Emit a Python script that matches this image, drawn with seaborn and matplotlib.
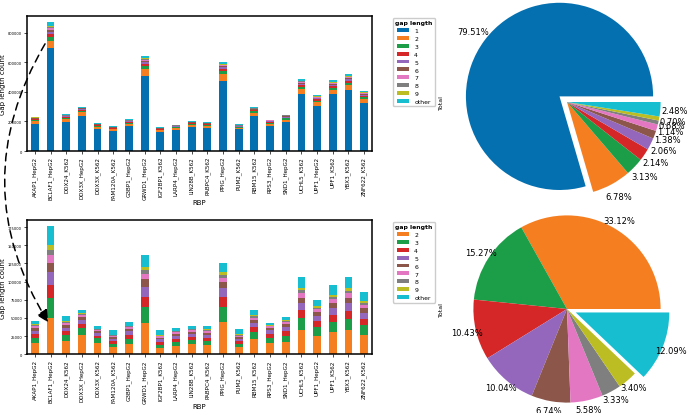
import numpy as np
import pandas as pd
import matplotlib
matplotlib.use("Agg")
import matplotlib.pyplot as plt
import seaborn as sns
from matplotlib.patches import ConnectionPatch, Patch

# ---------------- data ----------------
rbps = ["AKAP1_HepG2", "BCLAF1_HepG2", "DDX24_K562", "DDX3X_HepG2", "DDX3X_K562",
        "FAM120A_K562", "G3BP1_HepG2", "GRWD1_HepG2", "IGF2BP1_K562", "LARP4_HepG2",
        "LIN28B_K562", "PABPC4_K562", "PPIG_HepG2", "PUM2_K562", "RBM15_K562",
        "RPS3_HepG2", "SND1_HepG2", "UCHL5_K562", "UPF1_HepG2", "UPF1_K562",
        "YBX3_K562", "ZNF622_K562"]
gap_levels = ["1", "2", "3", "4", "5", "6", "7", "8", "9", "other"]

gap1 = [186000, 694000, 197000, 237000, 149000, 136000, 169000, 508000, 131000, 142000, 163000,
        158000, 475000, 147000, 237000, 169000, 195000, 384000, 303000, 384000, 414000, 323000]
gap2 = [15500, 50600, 18200, 26400, 15500, 10000, 14100, 43700, 8200, 11800, 13700,
        12800, 45100, 9600, 21400, 15900, 17300, 33300, 25500, 30500, 33300, 26400]
gap3 = [6400, 26400, 8200, 9100, 6400, 4100, 6900, 21500, 5000, 5500, 5900,
        5900, 20100, 4500, 9100, 6900, 8200, 16400, 12300, 14200, 15500, 13700]
gap4 = [5400, 18200, 5500, 6000, 3600, 3700, 5400, 14100, 3700, 4100, 4600,
        4100, 13200, 3700, 6900, 5000, 5900, 10900, 8200, 10000, 10900, 8700]
gap5 = [5100, 18300, 4600, 5900, 3700, 3200, 5000, 13700, 3600, 3700, 3600,
        4100, 12300, 3200, 5900, 5000, 6000, 10000, 7300, 9600, 10900, 8200]
gap6 = [3600, 12700, 3600, 3600, 2200, 2200, 3200, 10000, 2300, 2700, 2700,
        2700, 8200, 2700, 3600, 3200, 3600, 7300, 5000, 6800, 6900, 6300]
gap7 = [2700, 10100, 2700, 2800, 1900, 1900, 2300, 7700, 1800, 2300, 2300,
        2300, 5900, 1800, 3200, 2300, 3200, 5900, 3700, 5000, 6300, 4600]
gap8 = [1400, 6800, 1400, 1300, 900, 900, 1400, 5000, 900, 1300, 1400,
        1400, 3700, 1400, 1900, 1300, 1800, 4100, 2300, 3200, 3700, 3200]
gap9 = [1400, 6800, 1400, 1400, 900, 900, 1300, 4100, 1400, 1000, 900,
        900, 4100, 900, 1800, 1000, 1400, 3700, 1800, 2700, 3200, 2300]
gap_other = [4100, 26000, 6400, 4500, 3600, 5900, 5500, 17400, 5900, 4100, 4500,
             4500, 12700, 6400, 7200, 3100, 4100, 14100, 8600, 12800, 15000, 12300]

# pie "Total" shares (percent)
pie_all = [79.51, 6.78, 3.13, 2.14, 2.06, 1.38, 1.14, 0.68, 0.70, 2.48]
pie_no1 = [33.12, 15.27, 10.43, 10.04, 6.74, 5.58, 3.33, 3.40, 12.09]

y_ticks_top = [0, 200000, 400000, 600000, 800000]
y_ticks_bot = [0, 25000, 50000, 75000, 100000, 125000, 150000, 175000]

# ---------------- style ----------------
palette = {"1": "#0570b0", "2": "#f47e20", "3": "#1c9e48", "4": "#d62728",
           "5": "#9467bd", "6": "#8c564b", "7": "#e377c2", "8": "#7f7f7f",
           "9": "#bcbd22", "other": "#17becf"}

series = dict(zip(gap_levels, [gap1, gap2, gap3, gap4, gap5, gap6, gap7, gap8, gap9, gap_other]))

W, H = 687, 414
fig = plt.figure(figsize=(W / 100, H / 100), dpi=100)

ax_top = fig.add_axes([27 / W, 1 - 152 / H, 345 / W, 135 / H])
ax_bot = fig.add_axes([27 / W, 1 - 355.3 / H, 345 / W, 134.3 / H])


def stacked(ax, levels, yticks, xlab_y):
    df = pd.DataFrame({l: series[l] for l in levels}, index=rbps)
    cum = df.cumsum(axis=1)
    for lvl in reversed(levels):
        sns.barplot(x=rbps, y=cum[lvl].values, order=rbps, color=palette[lvl],
                    width=0.5, saturation=1, linewidth=0, errorbar=None, ax=ax)
    ax.set_xlim(-0.5, len(rbps) - 0.5)
    ax.set_yticks(yticks)
    ax.ticklabel_format(axis="y", style="plain", useOffset=False)
    ax.tick_params(axis="y", labelsize=2.6, length=2, width=0.5, pad=1.5)
    ax.tick_params(axis="x", labelsize=4.1, length=2, width=0.5, pad=1.5, labelrotation=90)
    ax.set_xlabel("RBP", fontsize=5)
    ax.xaxis.set_label_coords(0.5, xlab_y)
    ax.set_ylabel("Gap length count", fontsize=5)
    ax.yaxis.set_label_coords(-0.06, 0.5)
    for s in ax.spines.values():
        s.set_linewidth(1.1)
        s.set_color("black")
    handles = [Patch(facecolor=palette[l], edgecolor="none", label=l) for l in levels]
    ax.legend(handles=handles, title="gap length", loc="upper left",
              bbox_to_anchor=(1.06, 0.985), borderaxespad=0, fontsize=4.4,
              title_fontproperties={"weight": "bold", "size": 4.4},
              labelspacing=0.45, handlelength=2.0, handleheight=0.6,
              handletextpad=0.8, borderpad=0.4, framealpha=1)


stacked(ax_top, gap_levels, y_ticks_top, -0.355)
stacked(ax_bot, gap_levels[1:], y_ticks_bot, -0.36)

# ---------------- pies ----------------
side = 234
ax_p1 = fig.add_axes([450 / W, (H - 220) / H, side / W, side / H])
ax_p1.pie(pie_all, colors=[palette[l] for l in gap_levels],
          explode=[0.1] + [0] * 9, autopct="%.2f%%", pctdistance=1.15,
          textprops={"fontsize": 6})
ax_p1.set_aspect("equal")
ax_p1.set_xlim(-1.25, 1.25)
ax_p1.set_ylim(-1.25, 1.25)
ax_p1.set_ylabel("Total", fontsize=4.5)

ax_p2 = fig.add_axes([450 / W, (H - 427) / H, side / W, side / H])
ax_p2.pie(pie_no1, colors=[palette[l] for l in gap_levels[1:]],
          explode=[0] * 8 + [0.1], autopct="%.2f%%", pctdistance=1.1,
          textprops={"fontsize": 6})
ax_p2.set_aspect("equal")
ax_p2.set_xlim(-1.25, 1.25)
ax_p2.set_ylim(-1.25, 1.25)
ax_p2.set_ylabel("Total", fontsize=4.5)

# ---------------- dashed connector ----------------
con = ConnectionPatch(xyA=(0.65, 725000), coordsA=ax_top.transData,
                      xyB=(0.85, 44000), coordsB=ax_bot.transData,
                      arrowstyle="-|>", connectionstyle="arc3,rad=0.3",
                      linestyle=(0, (5, 3.5)), linewidth=1.1, color="black",
                      mutation_scale=18)
fig.add_artist(con)

fig.savefig("out.png", dpi=100)
